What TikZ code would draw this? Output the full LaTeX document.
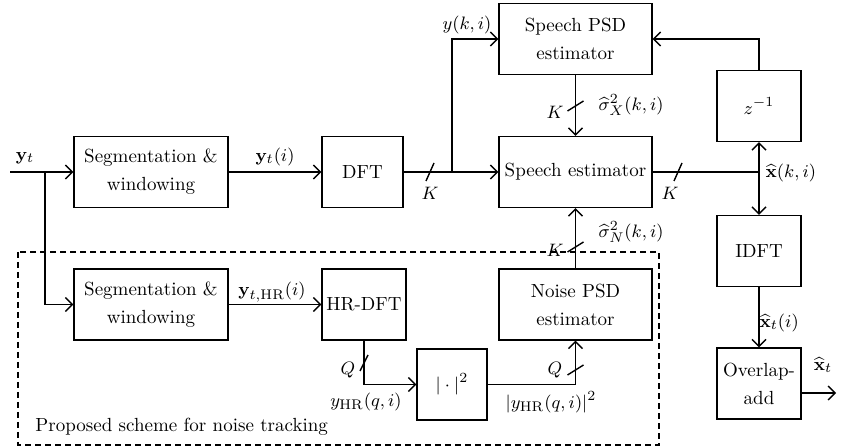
\documentclass[tikz,border=0pt]{standalone}
\usepackage{amsmath}
\usepackage{tikz}
\usetikzlibrary{arrows.meta,positioning}
\newcommand{\slashH}[1]{\draw #1 ++(-4,9) -- ++(8,-18);}
\newcommand{\slashV}[1]{\draw #1 ++(-8,5) -- ++(16,-10);}

\begin{document}
\begin{tikzpicture}[x=0.5pt,y=-0.5pt,>={Straight Barb[length=3.5pt,width=7pt]},line width=0.7pt,
    every node/.style={font=\fontsize{9.5}{14}\selectfont},
    blk/.style={draw,align=center,inner sep=0pt,minimum height=35.5pt},
    lbl/.style={inner sep=0.5pt}]
    \useasboundingbox (0,0) rectangle (841,448);
    % upper path
    \coordinate (in) at (10,172);
    \coordinate (br) at (45,172);
    \node[blk,minimum width=77pt] (seg) at (151,172) {Segmentation \&\\windowing};
    \node[blk,minimum width=40.5pt] (dft) at (362.5,172) {DFT};
    \node[blk,minimum width=76.5pt] (spsd) at (575.5,39) {Speech PSD\\estimator};
    \node[blk,minimum width=76.5pt] (sest) at (575.5,172) {Speech estimator};
    \node[blk,minimum width=42pt] (zinv) at (759,106) {$z^{-1}$};
    \node[blk,minimum width=42pt] (idft) at (759,251) {IDFT};
    \node[blk,minimum width=42pt] (ola) at (759,383.5) {Overlap-\\add};
    \coordinate (out) at (836,393);
    % noise tracking path
    \node[blk,minimum width=77pt] (seghr) at (151,304.5) {Segmentation \&\\windowing};
    \node[blk,minimum width=42pt] (hrdft) at (364,304.5) {HR-DFT};
    \node[blk,minimum width=35pt] (sq) at (452,384.5) {$|\cdot|^2$};
    \node[blk,minimum width=76.5pt] (npsd) at (575.5,304.5) {Noise PSD\\estimator};

    \draw[->] (in) -- (seg);
    \draw[->] (br) |- (seghr);
    \draw[->] (seg) -- (dft);
    \draw[->] (dft) -- (sest);
    \coordinate (kbr) at (452,172);
    \draw[->] (kbr) |- (spsd);
    \draw[->] (spsd) -- (sest);
    \draw[->] (npsd) -- (sest);
    \coordinate (xs) at (759,172);
    \draw (sest) -- (xs);
    \draw[->] (xs) -- (zinv);
    \draw[->] (xs) -- (idft);
    \draw[->] (zinv) |- (spsd);
    \draw[->] (idft) -- (ola);
    \draw[->] (ola.east |- out) -- (out);
    \draw[->] (seghr) -- (hrdft);
    \draw[->] (hrdft) |- (sq);
    \draw[->] (sq) -| (npsd);

    % bus widths
    \slashH{(430,172)}
    \slashH{(678,172)}
    \slashV{(575.5,106)}
    \slashV{(575.5,247)}
    \draw (360,371) -- (368,355);
    \slashV{(575.5,370)}

    % signal labels
    \node[lbl] (lyt) at (25,158) {$\mathbf{y}_t$};
    \node[lbl] (lyti) at (275,157) {$\mathbf{y}_t(i)$};
    \node[lbl] (lyki) at (467,25) {$y(k,i)$};
    \node[lbl] (lkA) at (430,193) {$K$};
    \node[lbl] (lkB) at (555,112) {$K$};
    \node[lbl,anchor=west] (lsx) at (597,105) {$\widehat{\sigma}_X^2(k,i)$};
    \node[lbl] (lkC) at (670,193) {$K$};
    \node[lbl,anchor=west] (lxki) at (764,173) {$\widehat{\mathbf{x}}(k,i)$};
    \node[lbl,anchor=west] (lsn) at (597,232) {$\widehat{\sigma}_N^2(k,i)$};
    \node[lbl] (lkD) at (555,250) {$K$};
    \node[lbl,anchor=west] (lxti) at (758,323) {$\widehat{\mathbf{x}}_t(i)$};
    \node[lbl] (lxt) at (823,365) {$\widehat{\mathbf{x}}_t$};
    \node[lbl] (lythr) at (272,292) {$\mathbf{y}_{t,\mathrm{HR}}(i)$};
    \node[lbl] (lqA) at (348,370) {$Q$};
    \node[lbl] (lyhr) at (366,402) {$y_{\mathrm{HR}}(q,i)$};
    \node[lbl] (lqB) at (555,370) {$Q$};
    \node[lbl] (lyhr2) at (551,402) {$|y_{\mathrm{HR}}(q,i)|^2$};

    \draw[dashed,dash pattern=on 3pt off 2pt] (18,252) rectangle (659,445);
    \node[anchor=west] (lprop) at (28,427) {Proposed scheme for noise tracking};
\end{tikzpicture}
\end{document}
